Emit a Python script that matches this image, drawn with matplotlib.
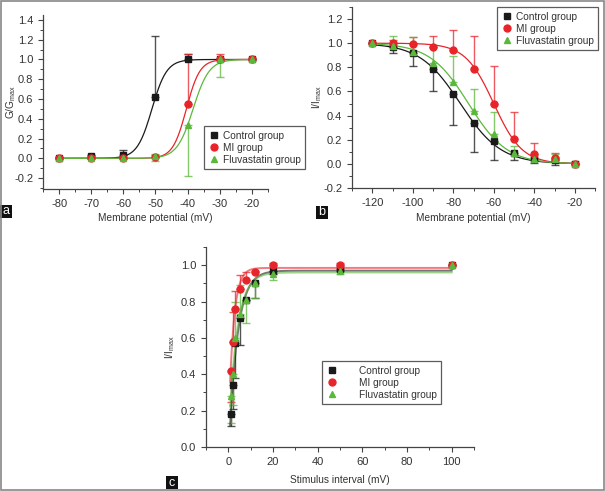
import numpy as np
from matplotlib import pyplot as plt
from matplotlib.patches import Rectangle
from matplotlib.ticker import MultipleLocator

#===================== DATA =====================
groups = ["Control group", "MI group", "Fluvastatin group"]
colors = ["#1a1a1a", "#e8242b", "#5cb83c"]
markers = ["s", "o", "^"]

# panel a : activation (G/Gmax)
va = [-80, -70, -60, -50, -40, -30, -20]
ga_ctrl = [0.0, 0.02, 0.03, 0.62, 1.0, 1.0, 1.0]
ga_mi = [0.0, 0.0, 0.0, 0.01, 0.55, 1.0, 1.0]
ga_flu = [0.0, 0.0, 0.0, 0.02, 0.34, 1.0, 1.0]
ga_ctrl_lo = [0, 0, 0, 0, 0, 0, 0]
ga_ctrl_hi = [0.01, 0.01, 0.05, 0.62, 0.06, 0.0, 0.0]
ga_mi_lo = [0, 0, 0, 0, 0, 0, 0]
ga_mi_hi = [0.0, 0.0, 0.0, 0.02, 0.51, 0.06, 0.0]
ga_flu_lo = [0.01, 0.0, 0.01, 0.05, 0.52, 0.18, 0.01]
ga_flu_hi = [0.01, 0.0, 0.0, 0.02, 0.0, 0.0, 0.01]
# Boltzmann fit (V1/2, k)
fit_a = [(-51.1, 2.3), (-40.4, 2.1), (-38.3, 2.5)]

# panel b : inactivation (I/Imax)
vb = [-120, -110, -100, -90, -80, -70, -60, -50, -40, -30, -20]
ib_ctrl = [1.0, 0.97, 0.92, 0.79, 0.58, 0.34, 0.19, 0.09, 0.04, 0.03, 0.0]
ib_mi = [1.0, 1.0, 0.99, 0.97, 0.94, 0.79, 0.50, 0.21, 0.08, 0.05, 0.0]
ib_flu = [1.0, 0.98, 0.93, 0.84, 0.68, 0.44, 0.25, 0.09, 0.04, 0.04, 0.0]
ib_ctrl_lo = [0.0, 0.05, 0.11, 0.19, 0.26, 0.24, 0.155, 0.055, 0.03, 0.04, 0.0]
ib_ctrl_hi = [0, 0, 0, 0, 0, 0, 0, 0, 0, 0, 0]
ib_mi_lo = [0, 0, 0, 0, 0, 0, 0, 0, 0, 0, 0]
ib_mi_hi = [0.0, 0.03, 0.06, 0.09, 0.17, 0.27, 0.31, 0.22, 0.09, 0.04, 0.01]
ib_flu_lo = [0, 0, 0, 0, 0, 0, 0, 0, 0, 0, 0]
ib_flu_hi = [0.0, 0.08, 0.12, 0.13, 0.21, 0.18, 0.18, 0.06, 0.02, 0.04, 0.02]
fit_b = [(-76.5, 10.0), (-60.0, 7.0), (-72.5, 9.5)]

# panel c : recovery
tc = [1, 2, 3, 5, 8, 12, 20, 50, 100]
ic_ctrl = [0.18, 0.34, 0.57, 0.71, 0.81, 0.90, 0.97, 0.98, 1.0]
ic_mi = [0.42, 0.58, 0.76, 0.87, 0.92, 0.96, 1.0, 1.0, 1.0]
ic_flu = [0.28, 0.40, 0.60, 0.73, 0.81, 0.90, 0.95, 0.97, 1.0]
ic_ctrl_lo = [0.065, 0.13, 0.19, 0.15, 0.0, 0.08, 0.02, 0.01, 0.0]
ic_ctrl_hi = [0, 0, 0, 0, 0, 0, 0, 0, 0]
ic_mi_lo = [0.17, 0.0, 0.0, 0.0, 0.0, 0.0, 0.0, 0.0, 0.0]
ic_mi_hi = [0.0, 0.16, 0.10, 0.075, 0.04, 0.01, 0.01, 0.01, 0.0]
ic_flu_lo = [0.15, 0.17, 0.0, 0.0, 0.13, 0.08, 0.03, 0.02, 0.0]
ic_flu_hi = [0.0, 0.0, 0.20, 0.16, 0.0, 0.0, 0.0, 0.0, 0.0]
# A*(1-exp(-(t-t0)/tau))
fit_c = [(0.97, 0.3, 3.8), (0.985, -0.2, 2.2), (0.96, -0.2, 3.8)]

#===================== FIGURE =====================
plt.rcParams['font.family'] = ['Liberation Sans', 'DejaVu Sans']
plt.rcParams['axes.unicode_minus'] = False
fig = plt.figure(figsize=(6.05, 4.91), dpi=100)
txt = "#333333"
fs = 8
fl = 7.3


def style(ax):
    for s in ["top", "right"]:
        ax.spines[s].set_visible(False)
    for s in ["left", "bottom"]:
        ax.spines[s].set_color("#444444")
        ax.spines[s].set_linewidth(0.9)
    ax.tick_params(which="major", direction="out", length=3.5, width=0.8,
                   labelsize=fs, colors="#444444", labelcolor=txt)
    ax.tick_params(which="minor", direction="out", length=2, width=0.7, colors="#444444")


def draw(ax, x, ys, los, his):
    for y, lo, hi, c, m in zip(ys, los, his, colors, markers):
        ax.errorbar(x, y, yerr=[lo, hi], fmt="none", ecolor=c, elinewidth=1.0,
                    capsize=3, capthick=1.0, alpha=0.75, zorder=2)
    for y, c, m, g in zip(ys, colors, markers, groups):
        ax.plot(x, y, linestyle="none", marker=m, color=c, markersize=5, label=g, zorder=4)


def labels(ax, xl, yl, xy, yx):
    ax.set_xlabel(xl, fontsize=fl, color=txt)
    ax.set_ylabel(yl, fontsize=fl, color=txt)
    ax.xaxis.set_label_coords(0.5, xy)
    ax.yaxis.set_label_coords(yx, 0.5)


def legend(ax, xy, spacing=0.4):
    leg = ax.legend(loc="upper left", bbox_to_anchor=xy, bbox_transform=fig.transFigure,
                    fontsize=7.3, frameon=True, fancybox=False, borderaxespad=0,
                    handlelength=1.0, handletextpad=spacing, labelspacing=0.2,
                    borderpad=0.45)
    leg.get_frame().set_edgecolor("#333333")
    leg.get_frame().set_linewidth(0.9)
    for t in leg.get_texts():
        t.set_color(txt)


# ---- panel a
ax1 = fig.add_axes([43 / 605, 1 - 189 / 491, 225 / 605, 174 / 491])
xx = np.linspace(-80, -20, 300)
for (vh, k), c in zip(fit_a, colors):
    ax1.plot(xx, 1 / (1 + np.exp((vh - xx) / k)), color=c, lw=0.9, zorder=3)
draw(ax1, va, [ga_ctrl, ga_mi, ga_flu], [ga_ctrl_lo, ga_mi_lo, ga_flu_lo],
     [ga_ctrl_hi, ga_mi_hi, ga_flu_hi])
ax1.set_xlim(-85, -15)
ax1.set_ylim(-0.31, 1.45)
ax1.set_xticks(va)
ax1.set_yticks(np.arange(-0.2, 1.41, 0.2))
ax1.yaxis.set_major_formatter(plt.FormatStrFormatter("%.1f"))
ax1.xaxis.set_minor_locator(MultipleLocator(5))
ax1.yaxis.set_minor_locator(MultipleLocator(0.1))
style(ax1)
labels(ax1, "Membrane potential (mV)", "G/G$_{\\mathregular{max}}$", -0.14, -0.11)
legend(ax1, (204 / 605, 1 - 126 / 491))

# ---- panel b
ax2 = fig.add_axes([352 / 605, 1 - 188 / 491, 243 / 605, 181 / 491])
xx = np.linspace(-120, -20, 300)
for (vh, k), c in zip(fit_b, colors):
    ax2.plot(xx, 1 / (1 + np.exp((xx - vh) / k)), color=c, lw=0.9, zorder=3)
draw(ax2, vb, [ib_ctrl, ib_mi, ib_flu], [ib_ctrl_lo, ib_mi_lo, ib_flu_lo],
     [ib_ctrl_hi, ib_mi_hi, ib_flu_hi])
ax2.set_xlim(-130, -10)
ax2.set_ylim(-0.2, 1.3)
ax2.set_xticks(np.arange(-120, -19, 20))
ax2.set_yticks(np.arange(-0.2, 1.21, 0.2))
ax2.yaxis.set_major_formatter(plt.FormatStrFormatter("%.1f"))
ax2.xaxis.set_minor_locator(MultipleLocator(10))
ax2.yaxis.set_minor_locator(MultipleLocator(0.1))
style(ax2)
labels(ax2, "Membrane potential (mV)", "I/I$_{\\mathregular{max}}$", -0.14, -0.115)
legend(ax2, (497 / 605, 1 - 7 / 491))

# ---- panel c
ax3 = fig.add_axes([206 / 605, 1 - 447 / 491, 268 / 605, 200 / 491])
xx = np.linspace(0.8, 100, 600)
for (A, t0, tau), c in zip(fit_c, colors):
    yy = A * (1 - np.exp(-(xx - t0) / tau))
    ax3.plot(xx, yy, color=c, lw=1.4, alpha=0.6, zorder=3)
draw(ax3, tc, [ic_ctrl, ic_mi, ic_flu], [ic_ctrl_lo, ic_mi_lo, ic_flu_lo],
     [ic_ctrl_hi, ic_mi_hi, ic_flu_hi])
ax3.set_xlim(-10, 110)
ax3.set_ylim(0, 1.1)
ax3.set_xticks(np.arange(0, 101, 20))
ax3.set_yticks(np.arange(0, 1.01, 0.2))
ax3.yaxis.set_major_formatter(plt.FormatStrFormatter("%.1f"))
ax3.xaxis.set_minor_locator(MultipleLocator(10))
ax3.yaxis.set_minor_locator(MultipleLocator(0.1))
style(ax3)
labels(ax3, "Stimulus interval (mV)", "I/I$_{\\mathregular{max}}$", -0.14, -0.11)
legend(ax3, (322 / 605, 1 - 361 / 491), spacing=2.2)

# ---- panel letters and frame
for lab, x0, y0 in [("a", 0, 205), ("b", 316, 206), ("c", 166, 476)]:
    fig.patches.append(Rectangle((x0 / 605, 1 - (y0 + 13) / 491), 12 / 605, 13 / 491,
                                 transform=fig.transFigure, facecolor="#111111",
                                 edgecolor="none"))
    fig.text((x0 + 6) / 605, 1 - (y0 + 6.5) / 491, lab, color="white", fontsize=9,
             ha="center", va="center")
fig.patches.append(Rectangle((0.5 / 605, 1.5 / 491), 603.5 / 605, 488.5 / 491,
                             transform=fig.transFigure, facecolor="none",
                             edgecolor="#888888", linewidth=1.2))

plt.savefig("out.png", dpi=100)
